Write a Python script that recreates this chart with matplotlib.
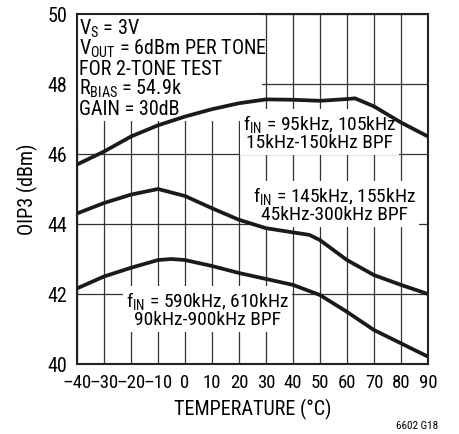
import matplotlib
matplotlib.use("Agg")
import matplotlib.pyplot as plt
from matplotlib.patches import Rectangle
import numpy as np

# ---- data ----
temps = [-40, -30, -20, -10, 0, 10, 20, 30, 40, 50, 60, 63, 70, 80, 90]
oip3_95k = [45.7, 46.07, 46.5, 46.82, 47.07, 47.28, 47.45, 47.56, 47.55, 47.52, 47.57, 47.59, 47.36, 46.9, 46.5]
temps_mid = [-40, -30, -20, -10, 0, 10, 20, 30, 40, 46, 50, 60, 70, 80, 90]
oip3_145k = [44.3, 44.6, 44.84, 45.0, 44.8, 44.45, 44.12, 43.88, 43.76, 43.69, 43.54, 42.97, 42.54, 42.26, 42.0]
temps_low = [-40, -30, -20, -10, -5, 0, 10, 20, 30, 40, 50, 60, 70, 80, 90]
oip3_590k = [42.16, 42.5, 42.75, 42.97, 43.0, 42.97, 42.8, 42.6, 42.43, 42.26, 41.97, 41.49, 40.97, 40.59, 40.21]
xticks = [-40, -30, -20, -10, 0, 10, 20, 30, 40, 50, 60, 70, 80, 90]
yticks = [40, 42, 44, 46, 48, 50]
cond_lines = ["V$_\\mathrm{S}$ = 3V", "V$_\\mathrm{OUT}$ = 6dBm PER TONE", "FOR 2-TONE TEST",
              "R$_\\mathrm{BIAS}$ = 54.9k", "GAIN = 30dB"]

fams = ['Roboto Condensed', 'Archivo Narrow', 'Liberation Sans', 'DejaVu Sans']
plt.rcParams['font.family'] = fams
plt.rcParams['mathtext.fontset'] = 'custom'
plt.rcParams['mathtext.rm'] = 'Roboto Condensed'
plt.rcParams['mathtext.it'] = 'Roboto Condensed'
plt.rcParams['mathtext.default'] = 'rm'

W, H = 459, 434
fig = plt.figure(figsize=(W/100, H/100), dpi=100)
ax = fig.add_axes([77/W, 1-364/H, (428-77)/W, (364-14)/H])

fs = 14.5
afs = 14
ax.set_xlim(-40, 90)
ax.set_ylim(40, 50)
ax.set_xticks(xticks)
ax.set_yticks(yticks)
ax.set_xticklabels([("\u2013%d" % -t) if t < 0 else str(t) for t in xticks])
ax.tick_params(length=0, colors='black')
ax.tick_params(axis='x', pad=7, labelsize=13.5)
ax.tick_params(axis='y', pad=7, labelsize=fs)
ax.grid(True, color='#333333', linewidth=0.9)
ax.set_axisbelow(True)
for s in ax.spines.values():
    s.set_linewidth(1.5)
    s.set_color('#222222')

lw = 2.7
ax.plot(temps, oip3_95k, color='#1a1a1a', lw=lw, zorder=4, solid_capstyle='butt')
ax.plot(temps_mid, oip3_145k, color='#1a1a1a', lw=lw, zorder=4, solid_capstyle='butt')
ax.plot(temps_low, oip3_590k, color='#1a1a1a', lw=lw, zorder=4, solid_capstyle='butt')

# white panel behind the test-condition block (hides grid there)
ax.add_patch(Rectangle((-40, 46.94), 68.5, 3.06, facecolor='white', edgecolor='none', zorder=2))
# spacing of the condition lines in axes-fraction (20 px per line)
y0 = 1 - (35 - 14) / 350
for i, line in enumerate(cond_lines):
    ax.text(0.006, y0 - i * 20 / 350, line, transform=ax.transAxes,
            fontsize=fs, va='baseline', ha='left', zorder=3)

bb = dict(facecolor='white', edgecolor='none', pad=2)
ax.text(49.8, 46.62, "f$_\\mathrm{IN}$ = 95kHz, 105kHz\n15kHz-150kHz BPF",
        fontsize=afs, va='center', ha='center', linespacing=0.95, bbox=bb, zorder=3)
ax.text(55.5, 44.55, "f$_\\mathrm{IN}$ = 145kHz, 155kHz\n45kHz-300kHz BPF",
        fontsize=afs, va='center', ha='center', linespacing=0.95, bbox=bb, zorder=3)
ax.text(8.3, 41.55, "f$_\\mathrm{IN}$ = 590kHz, 610kHz\n90kHz-900kHz BPF",
        fontsize=afs, va='center', ha='center', linespacing=0.95, bbox=bb, zorder=3)

fig.text(27/W, 1-189/H, "OIP3 (dBm)", fontsize=fs, rotation=90, ha='center', va='center')
fig.text(252.5/W, 1-409/H, "TEMPERATURE (\u00b0C)", fontsize=fs, ha='center', va='center')
fig.text(438/W, 1-426/H, "6602 G18", fontsize=8, ha='right', va='center')

fig.savefig("out.png", dpi=100)
